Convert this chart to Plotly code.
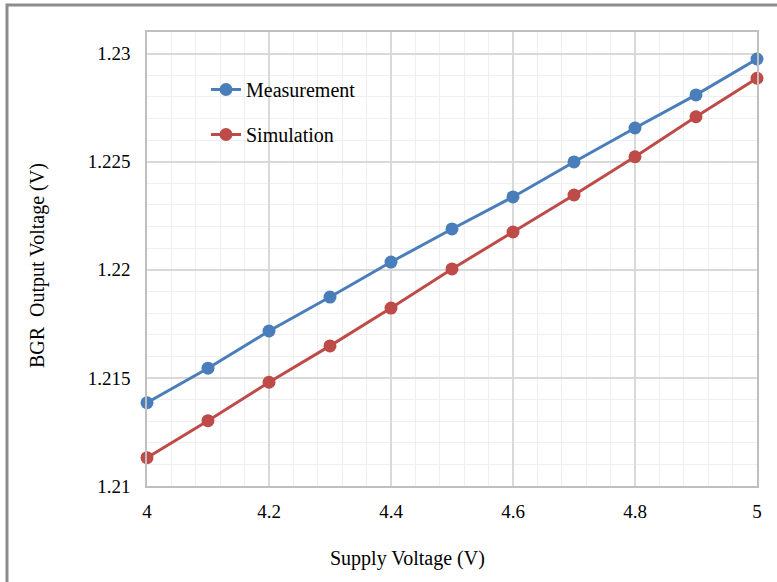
import plotly.graph_objects as go

supply_v = [4.0, 4.1, 4.2, 4.3, 4.4, 4.5, 4.6, 4.7, 4.8, 4.9, 5.0]
measurement = [1.21385, 1.21545, 1.21717, 1.21874, 1.22036, 1.22189, 1.22337, 1.22499, 1.22656, 1.22809, 1.22975]
simulation = [1.21131, 1.21302, 1.21480, 1.21648, 1.21823, 1.22004, 1.22175, 1.22346, 1.22523, 1.22708, 1.22886]

x_ticks = [4.0, 4.2, 4.4, 4.6, 4.8, 5.0]
x_labels = ["4", "4.2", "4.4", "4.6", "4.8", "5"]
y_ticks = [1.21, 1.215, 1.22, 1.225, 1.23]
y_labels = ["1.21", "1.215", "1.22", "1.225", "1.23"]

FONT = "Liberation Serif, Times New Roman, serif"
BLUE = "#4a7ebb"
RED = "#be4b48"

fig = go.Figure()
fig.add_trace(go.Scatter(x=supply_v, y=measurement, name="Measurement", mode="lines+markers",
                         line=dict(color=BLUE, width=3), marker=dict(size=13, color=BLUE),
                         legendgroup="m", cliponaxis=False))
fig.add_trace(go.Scatter(x=supply_v, y=simulation, name="Simulation", mode="lines+markers",
                         line=dict(color=RED, width=3), marker=dict(size=13, color=RED),
                         legendgroup="s", cliponaxis=False))

L, R, T, B = 147, 20, 32, 96
W, H = 777, 582
pw, ph = W - L - R, H - T - B

def px_x(px):
    return (px - L) / pw

def px_y(py):
    return 1 - (py - T) / ph

fig.update_layout(
    width=W, height=H,
    margin=dict(l=L, r=R, t=T, b=B),
    paper_bgcolor="white", plot_bgcolor="white",
    font=dict(family=FONT, size=19, color="#000000"),
    showlegend=True,
    legend=dict(x=px_x(206), y=px_y(70), xanchor="left", yanchor="top",
                bgcolor="rgba(0,0,0,0)", font=dict(size=20, family=FONT),
                traceorder="grouped", tracegroupgap=16),
    xaxis=dict(range=[4, 5], tickvals=x_ticks, ticktext=x_labels,
               showgrid=True, gridcolor="#d9d9d9", gridwidth=1.5,
               minor=dict(dtick=0.04, showgrid=True, gridcolor="#efefef", gridwidth=1),
               showline=True, linecolor="#bfbfbf", linewidth=1.5, mirror=True,
               zeroline=False, ticks="", ticklabelstandoff=7,
               tickfont=dict(size=19, family=FONT)),
    yaxis=dict(range=[1.21, 1.231], tickvals=y_ticks, ticktext=y_labels,
               showgrid=True, gridcolor="#d9d9d9", gridwidth=1.5,
               minor=dict(dtick=0.001, showgrid=True, gridcolor="#efefef", gridwidth=1),
               showline=True, linecolor="#bfbfbf", linewidth=1.5, mirror=True,
               zeroline=False, ticks="", ticklabelstandoff=11,
               tickfont=dict(size=19, family=FONT)),
    annotations=[
        dict(text="Supply Voltage (V)", xref="paper", yref="paper",
             x=px_x(407), y=px_y(558), xanchor="center", yanchor="middle",
             showarrow=False, font=dict(size=20, family=FONT)),
        dict(text="BGR  Output Voltage (V)", xref="paper", yref="paper",
             x=px_x(37), y=px_y(266), xanchor="center", yanchor="middle",
             showarrow=False, textangle=-90, font=dict(size=20, family=FONT)),
    ],
)

# outer gray frame of the figure
fx0 = (7 - L) / pw
fx1 = (W + 10 - L) / pw
fy1 = 1 + (T - 5) / ph
fy0 = -(B + 10) / ph
fig.add_shape(type="rect", xref="paper", yref="paper", x0=fx0, x1=fx1, y0=fy0, y1=fy1,
              line=dict(color="#8c8c8c", width=3), fillcolor="rgba(0,0,0,0)", layer="below")

fig.write_html("out.html")
